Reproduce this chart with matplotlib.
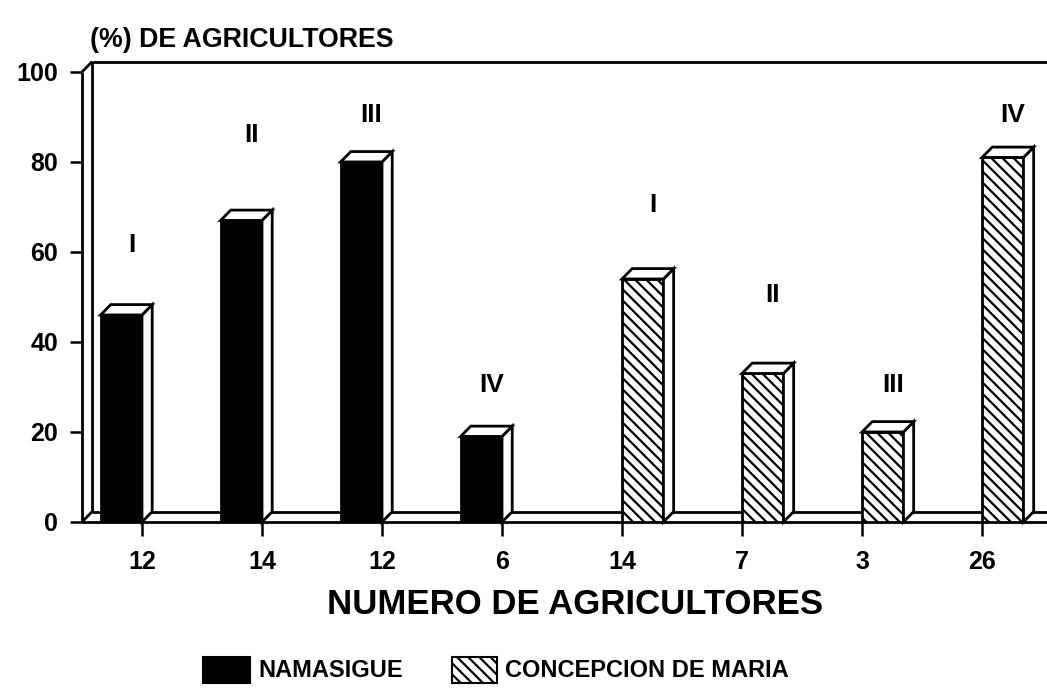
import matplotlib.pyplot as plt
from matplotlib.patches import Polygon, Rectangle

plt.rcParams['font.family'] = ['Liberation Sans', 'DejaVu Sans']
plt.rcParams['font.weight'] = 'bold'
plt.rcParams['hatch.linewidth'] = 1.6

# datos
numero = ['12', '14', '12', '6', '14', '7', '3', '26']
namasigue = [46, 67, 80, 19, 0, 0, 0, 0]
concepcion = [0, 0, 0, 0, 54, 33, 20, 81]
grupos = ['I', 'II', 'III', 'IV', 'I', 'II', 'III', 'IV']
altura_grupo = [61.5, 86, 90.5, 30.5, 70.5, 50.5, 30.5, 90.5]

fig = plt.figure(figsize=(10.47, 6.93), dpi=100)
ax = fig.add_axes([0.0783, 0.2468, 0.917, 0.6494])
ax.set_xlim(-0.5, 7.5)
ax.set_ylim(0, 100)

w = 0.345
dx, dy = 0.085, 2.3
lw = 2.0
xmax = 7.54


def barras3d(vals, offset, **kw):
    xs = [i + offset for i, v in enumerate(vals) if v > 0]
    hs = [v for v in vals if v > 0]
    bars = ax.bar(xs, hs, width=w, align='edge', edgecolor='black',
                  linewidth=lw, zorder=3, **kw)
    for b in bars:
        x0, h = b.get_x(), b.get_height()
        x1 = x0 + b.get_width()
        top = Polygon([(x0, h), (x0 + dx, h + dy), (x1 + dx, h + dy), (x1, h)],
                      closed=True, fc='white', ec='black', lw=lw, zorder=3,
                      clip_on=False)
        side = Polygon([(x1, 0), (x1, h), (x1 + dx, h + dy), (x1 + dx, dy)],
                       closed=True, fc='white', ec='black', lw=lw, zorder=3,
                       clip_on=False)
        ax.add_patch(side)
        ax.add_patch(top)
    return bars


barras3d(namasigue, -w, color='black')
barras3d(concepcion, 0, facecolor='white', hatch='\\\\\\')

# etiquetas I, II, III, IV
for i, (g, y) in enumerate(zip(grupos, altura_grupo)):
    off = -w / 2 if namasigue[i] > 0 else w / 2
    ax.text(i + off + dx, y, g, ha='center', va='center', fontsize=19,
            fontweight='bold')

# marco pseudo 3d
kw = dict(color='black', lw=lw, clip_on=False, zorder=2, solid_capstyle='butt')
ax.plot([-0.5, -0.5], [0, 100], **kw)
ax.plot([-0.5 + dx, -0.5 + dx], [dy, 100 + dy], **kw)
ax.plot([-0.5, -0.5 + dx], [100, 100 + dy], **kw)
ax.plot([-0.5 + dx, xmax], [100 + dy, 100 + dy], **kw)
ax.plot([-0.5, xmax], [0, 0], **kw)
ax.plot([-0.5 + dx, xmax], [dy, dy], **kw)
ax.plot([-0.5, -0.5 + dx], [0, dy], **kw)

for s in ax.spines.values():
    s.set_visible(False)

ax.set_yticks(range(0, 101, 20))
ax.set_xticks(range(len(numero)))
ax.set_xticklabels(numero)
ax.tick_params(axis='y', length=9, width=1.8, labelsize=18, pad=8)
ax.tick_params(axis='x', length=10, width=1.8, labelsize=18, pad=10)

fig.text(0.086, 0.942, '(%) DE AGRICULTORES', fontsize=19.3, fontweight='bold',
         va='center', ha='left')
fig.text(0.549, 0.127, 'NUMERO DE AGRICULTORES', fontsize=25,
         fontweight='bold', va='center', ha='center')

# leyenda
fig.patches.append(Rectangle((0.194, 0.014), 0.045, 0.038, transform=fig.transFigure,
                             fc='black', ec='black', lw=1.5))
fig.patches.append(Rectangle((0.432, 0.014), 0.043, 0.038, transform=fig.transFigure,
                             fc='white', ec='black', lw=1.5, hatch='\\\\\\'))
fig.text(0.247, 0.033, 'NAMASIGUE', fontsize=17, fontweight='bold', va='center')
fig.text(0.482, 0.033, 'CONCEPCION DE MARIA', fontsize=17, fontweight='bold',
         va='center')

fig.savefig('out.png', dpi=100)
